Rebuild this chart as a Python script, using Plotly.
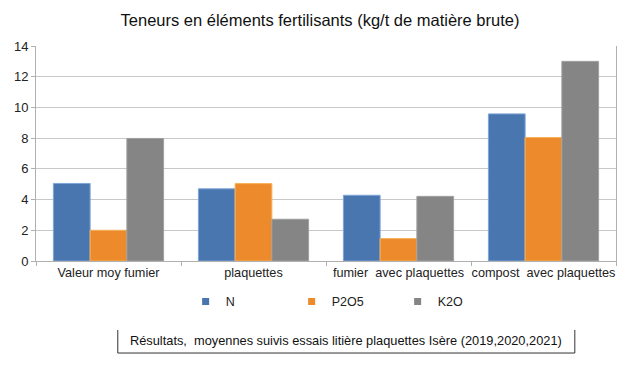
import plotly.graph_objects as go

categories = ["Valeur moy fumier", "plaquettes", "fumier  avec plaquettes", "compost  avec plaquettes"]
series_names = ["N", "P2O5", "K2O"]
n_values = [5.05, 4.7, 4.28, 9.58]
p2o5_values = [2.0, 5.04, 1.46, 8.04]
k2o_values = [7.98, 2.72, 4.21, 13.0]
y_ticks = [0, 2, 4, 6, 8, 10, 12, 14]

title_text = "Teneurs en éléments fertilisants (kg/t de matière brute)"
note_text = "Résultats,  moyennes suivis essais litière plaquettes Isère (2019,2020,2021)"

colors = ["#4a76b0", "#ec8a2c", "#858585"]
line_colors = ["#7fa6d8", "#f6b05a", "#a0a0a0"]

fig = go.Figure()
for name, vals, c, lc in zip(series_names, [n_values, p2o5_values, k2o_values], colors, line_colors):
    fig.add_trace(go.Bar(name=name, x=categories, y=vals, legendgroup=name, showlegend=False,
                         marker=dict(color=c, line=dict(color=lc, width=1))))
for name, c in zip(series_names, colors):
    fig.add_trace(go.Scatter(name=name, x=[None], y=[None], mode="markers", legendgroup=name,
                             marker=dict(symbol="square", size=7, color=c)))

font = "Liberation Sans, Arial, sans-serif"
fig.update_layout(
    width=640, height=365,
    margin=dict(l=36, r=24, t=46, b=104),
    paper_bgcolor="white", plot_bgcolor="white",
    barmode="group", bargap=0.24, bargroupgap=0,
    font=dict(family=font, size=12, color="#222222"),
    title=dict(text=title_text, x=0.5, xanchor="center", y=0.945, yanchor="middle",
               font=dict(family=font, size=16.5, color="#111111")),
    showlegend=True,
    legend=dict(orientation="h", x=0.258, xanchor="left", y=-0.19, yanchor="middle",
                font=dict(family=font, size=12.5, color="#222222"),
                entrywidth=61, itemwidth=30, bgcolor="rgba(0,0,0,0)"),
)
fig.update_xaxes(type="category", tickson="boundaries", ticks="outside", ticklen=4,
                 tickangle=0, automargin=False,
                 tickcolor="#b0b0b0", showline=True, linecolor="#b0b0b0", linewidth=1,
                 showgrid=False, tickfont=dict(size=12.7, color="#222222"))
fig.update_yaxes(range=[0, 14], tickvals=y_ticks, ticks="outside", ticklen=4, automargin=False,
                 tickcolor="#b0b0b0", showline=True, linecolor="#b0b0b0", linewidth=1,
                 mirror=True, showgrid=True, gridcolor="#c8c8c8", gridwidth=1,
                 zeroline=False, tickfont=dict(size=13, color="#222222"))

fig.add_annotation(text=note_text, xref="paper", yref="paper", x=0.534, y=-0.372,
                   xanchor="center", yanchor="middle", showarrow=False,
                   font=dict(family=font, size=12.8, color="#111111"))
# box around note (left, bottom, right borders)
for x0, y0, x1, y1 in [(0.141, -0.321, 0.141, -0.428), (0.141, -0.428, 0.929, -0.428),
                       (0.929, -0.321, 0.929, -0.428)]:
    fig.add_shape(type="line", xref="paper", yref="paper", x0=x0, y0=y0, x1=x1, y1=y1,
                  line=dict(color="#333333", width=1))

fig.write_html("out.html", config={"displayModeBar": False},
               post_script="document.body.style.margin='0';document.body.style.overflow='hidden';")
